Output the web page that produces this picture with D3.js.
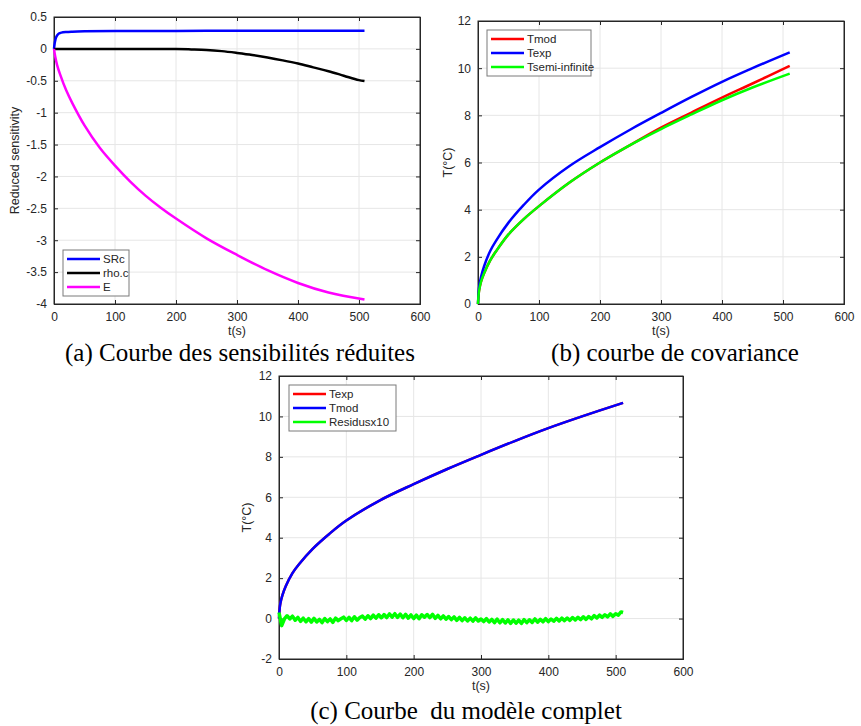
<!DOCTYPE html>
<html>
<head>
<meta charset="utf-8">
<script src="https://cdn.jsdelivr.net/npm/d3@7"></script>
<style>
  body { margin: 0; background: #fff; }
  svg text { font-family: "Liberation Sans", Arial, sans-serif; fill: #262626; }
  .caption { font-family: "Liberation Serif", "Times New Roman", serif; fill: #000; white-space: pre; }
</style>
</head>
<body>
<svg id="fig" width="861" height="726"></svg>
<script>
// ---- data ----
// (a) reduced sensitivities
var tSRc = [0, 1, 2, 3, 5, 8, 12, 20, 30, 50, 100, 200, 300, 400, 509];
var SRc = [0, 0.08, 0.13, 0.17, 0.21, 0.24, 0.255, 0.265, 0.27, 0.275, 0.28, 0.282, 0.283, 0.284, 0.285];
var tRho = [0, 100, 150, 200, 225, 250, 275, 300, 325, 350, 375, 400, 425, 450, 475, 500, 509];
var rhoC = [0, 0, 0, -0.003, -0.008, -0.016, -0.035, -0.063, -0.095, -0.135, -0.18, -0.23, -0.29, -0.35, -0.42, -0.49, -0.505];
var tE = [0, 2, 5, 10, 20, 30, 50, 75, 100, 125, 150, 175, 200, 250, 300, 350, 400, 450, 509];
var E = [0, -0.12, -0.25, -0.4, -0.65, -0.85, -1.2, -1.55, -1.83, -2.08, -2.3, -2.49, -2.66, -2.97, -3.23, -3.47, -3.67, -3.82, -3.93];

// (b) temperatures
var tT = [0, 1, 2, 5, 10, 20, 30, 50, 75, 100, 150, 200, 250, 300, 350, 400, 450, 511];
var Texp = [0, 0.5, 0.75, 1.15, 1.6, 2.25, 2.7, 3.45, 4.2, 4.85, 5.85, 6.65, 7.4, 8.1, 8.78, 9.42, 10.0, 10.67];
var Tmod = [0, 0.4, 0.6, 0.95, 1.3, 1.85, 2.25, 2.95, 3.6, 4.15, 5.15, 6.0, 6.75, 7.48, 8.12, 8.75, 9.35, 10.1];
var Tsemi = [0, 0.4, 0.6, 0.95, 1.3, 1.85, 2.25, 2.95, 3.6, 4.15, 5.15, 6.0, 6.75, 7.42, 8.04, 8.64, 9.18, 9.77];

// (c) residuals x10, sampled every 4 s
var tRes = d3.range(0, 512, 4).concat([511]);
var resid = [0.30, -0.35, -0.02, 0.14, -0.02, 0.12, -0.08, 0.06, -0.14, 0.02,
  -0.16, 0.00, -0.18, 0.01, -0.17, -0.04, -0.20, 0.00, -0.15, -0.02,
  -0.19, 0.02, -0.10, -0.01, 0.07, -0.09, 0.06, -0.10, 0.09, -0.08,
  0.05, 0.12, -0.03, 0.14, 0.00, 0.17, 0.02, 0.19, 0.04, 0.20,
  0.05, 0.23, 0.07, 0.24, 0.06, 0.22, 0.04, 0.21, 0.02, 0.18,
  0.00, 0.17, -0.01, 0.19, 0.07, 0.20, 0.05, 0.21, 0.01, 0.16,
  -0.01, 0.13, -0.03, 0.10, -0.05, 0.08, -0.09, 0.06, -0.10, 0.04,
  -0.12, 0.02, -0.13, 0.03, -0.12, -0.02, -0.15, 0.00, -0.17, -0.04,
  -0.20, -0.03, -0.21, -0.05, -0.22, -0.06, -0.24, -0.07, -0.23, -0.08,
  -0.24, -0.05, -0.20, -0.06, -0.19, -0.02, -0.18, -0.04, -0.16, 0.00,
  -0.15, -0.02, -0.13, 0.01, -0.12, 0.02, -0.10, 0.03, -0.09, 0.05,
  -0.07, 0.06, -0.05, 0.09, -0.04, 0.10, -0.01, 0.15, 0.03, 0.17,
  0.06, 0.19, 0.08, 0.23, 0.11, 0.24, 0.17, 0.33, 0.30];

var xTicks = [0, 100, 200, 300, 400, 500, 600];
var yTicksA = [0.5, 0, -0.5, -1, -1.5, -2, -2.5, -3, -3.5, -4];
var yTicksB = [0, 2, 4, 6, 8, 10, 12];
var yTicksC = [-2, 0, 2, 4, 6, 8, 10, 12];

var svg = d3.select('#fig');
var fmt = function (d) { return String(d); }; // plain hyphen minus like MATLAB

function zip(t, v) { return t.map(function (d, i) { return [d, v[i]]; }); }

function drawPanel(p) {
  var w = p.right - p.left, h = p.bottom - p.top;
  var x = d3.scaleLinear().domain([0, 600]).range([p.left, p.right]);
  var y = d3.scaleLinear().domain(p.yDomain).range([p.bottom, p.top]);
  var g = svg.append('g');

  // grid
  g.selectAll('line.gx').data(xTicks.slice(1, -1)).join('line')
    .attr('x1', function (d) { return x(d); }).attr('x2', function (d) { return x(d); })
    .attr('y1', p.top).attr('y2', p.bottom)
    .attr('stroke', '#e6e6e6').attr('stroke-width', 1);
  g.selectAll('line.gy').data(p.yTicks.filter(function (d) { return d !== p.yDomain[0] && d !== p.yDomain[1]; })).join('line')
    .attr('y1', function (d) { return y(d); }).attr('y2', function (d) { return y(d); })
    .attr('x1', p.left).attr('x2', p.right)
    .attr('stroke', '#e6e6e6').attr('stroke-width', 1);

  // axes (ticks inward, on all four sides)
  var tk = 4;
  g.append('g').attr('transform', 'translate(0,' + p.bottom + ')')
    .call(d3.axisBottom(x).tickValues(xTicks).tickSize(-tk).tickPadding(8).tickFormat(fmt));
  g.append('g').attr('transform', 'translate(0,' + p.top + ')')
    .call(d3.axisTop(x).tickValues(xTicks).tickSize(-tk).tickFormat(''));
  g.append('g').attr('transform', 'translate(' + p.left + ',0)')
    .call(d3.axisLeft(y).tickValues(p.yTicks).tickSize(-tk).tickPadding(7).tickFormat(fmt));
  g.append('g').attr('transform', 'translate(' + p.right + ',0)')
    .call(d3.axisRight(y).tickValues(p.yTicks).tickSize(-tk).tickFormat(''));
  g.selectAll('.domain').attr('stroke', '#262626');
  g.selectAll('.tick line').attr('stroke', '#262626');
  g.selectAll('.tick text').attr('font-size', 12).attr('fill', '#262626')
    .style('font-family', '"Liberation Sans", Arial, sans-serif');

  // box
  g.append('rect').attr('x', p.left).attr('y', p.top).attr('width', w).attr('height', h)
    .attr('fill', 'none').attr('stroke', '#262626').attr('stroke-width', 1);

  // series
  var line = d3.line().x(function (d) { return x(d[0]); }).y(function (d) { return y(d[1]); });
  p.series.forEach(function (s) {
    var curve = s.raw ? d3.curveLinear : (s.mono ? d3.curveMonotoneX : d3.curveCatmullRom.alpha(0.5));
    g.append('path').datum(s.data)
      .attr('fill', 'none').attr('stroke', s.color).attr('stroke-width', s.width || 2.5)
      .attr('stroke-linejoin', 'round')
      .attr('d', line.curve(curve));
  });

  // axis labels
  g.append('text').attr('x', (p.left + p.right) / 2).attr('y', p.bottom + 31)
    .attr('text-anchor', 'middle').attr('font-size', 12.5).text('t(s)');
  g.append('text')
    .attr('transform', 'translate(' + p.yLabelX + ',' + ((p.top + p.bottom) / 2) + ') rotate(-90)')
    .attr('text-anchor', 'middle').attr('font-size', 12.5).text(p.yLabel);

  // legend
  var L = p.legend;
  var lg = g.append('g').attr('transform', 'translate(' + L.x + ',' + L.y + ')');
  lg.append('rect').attr('width', L.w).attr('height', 14 * p.series.length + 4)
    .attr('fill', '#fff').attr('stroke', '#7a7a7a').attr('stroke-width', 1);
  p.series.forEach(function (s, i) {
    var yy = 9 + i * 14;
    lg.append('line').attr('x1', 4).attr('x2', 37).attr('y1', yy).attr('y2', yy)
      .attr('stroke', s.color).attr('stroke-width', 2.5);
    lg.append('text').attr('x', 40).attr('y', yy + 4).attr('font-size', 11.5).text(s.name);
  });

  // caption
  svg.append('text').attr('class', 'caption')
    .attr('x', p.captionX).attr('y', p.captionY)
    .attr('text-anchor', 'middle').attr('font-size', 25).text(p.caption);
}

drawPanel({
  left: 54, right: 420, top: 17, bottom: 304,
  yDomain: [-4, 0.5], yTicks: yTicksA,
  yLabel: 'Reduced sensitivity', yLabelX: 19,
  legend: { x: 63, y: 250, w: 66 },
  caption: '(a) Courbe des sensibilités réduites', captionX: 240, captionY: 361,
  series: [
    { name: 'SRc', color: '#0000ff', data: zip(tSRc, SRc) },
    { name: 'rho.c', color: '#000000', mono: true, data: zip(tRho, rhoC) },
    { name: 'E', color: '#ff00ff', data: zip(tE, E) }
  ]
});

drawPanel({
  left: 478, right: 844, top: 21, bottom: 304,
  yDomain: [0, 12], yTicks: yTicksB,
  yLabel: 'T(°C)', yLabelX: 452,
  legend: { x: 487, y: 30, w: 104 },
  caption: '(b) courbe de covariance', captionX: 675, captionY: 361,
  series: [
    { name: 'Tmod', color: '#ff0000', data: zip(tT, Tmod) },
    { name: 'Texp', color: '#0000ff', data: zip(tT, Texp) },
    { name: 'Tsemi-infinite', color: '#00ff00', data: zip(tT, Tsemi) }
  ]
});

drawPanel({
  left: 279, right: 683, top: 376, bottom: 659,
  yDomain: [-2, 12], yTicks: yTicksC,
  yLabel: 'T(°C)', yLabelX: 251,
  legend: { x: 289, y: 385, w: 107 },
  caption: '(c) Courbe  du modèle complet', captionX: 466, captionY: 719,
  series: [
    { name: 'Texp', color: '#ff0000', data: zip(tT, Texp) },
    { name: 'Tmod', color: '#0000ff', data: zip(tT, Texp) },
    { name: 'Residusx10', color: '#00ff00', width: 3.5, raw: true, data: zip(tRes, resid) }
  ]
});
</script>
</body>
</html>
